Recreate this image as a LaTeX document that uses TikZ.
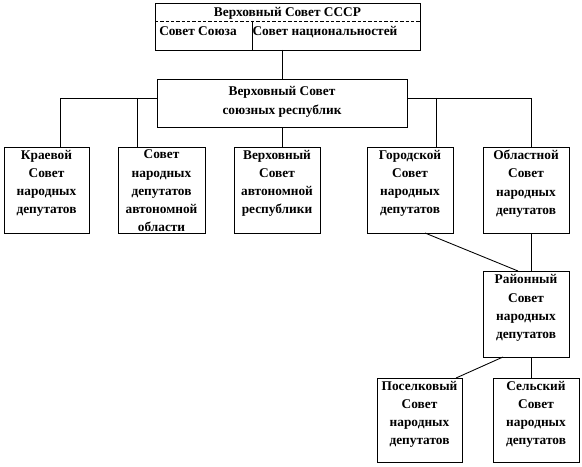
\documentclass[tikz,border=0pt]{standalone}
\usepackage{fontspec}
\setmainfont{Liberation Serif}
\begin{document}
\begin{tikzpicture}[x=0.75pt,y=-0.75pt,
  box/.style 2 args={draw, line width=0.65pt, minimum width=#1*0.75pt, minimum height=#2*0.75pt, inner sep=0pt, outer sep=0pt},
  lbl/.style={anchor=north, align=center, inner sep=0pt, font=\fontsize{10}{13.7}\selectfont\bfseries},
  one/.style={anchor=base, inner sep=0pt, font=\fontsize{10}{13.7}\selectfont\bfseries},
  conn/.style={line width=0.65pt}]
\useasboundingbox (0,0) rectangle (582,467);
% boxes
\node[box={265}{47}] (top) at (287.5,26.5) {};
\node[box={250}{48}] (rep) at (282,103) {};
\node[box={85}{86}] (b1) at (46.5,190) {};
\node[box={87}{86}] (b2) at (161.5,190) {};
\node[box={86}{86}] (b3) at (277,190) {};
\node[box={86}{86}] (b4) at (410,190) {};
\node[box={86}{86}] (b5) at (526,190) {};
\node[box={86}{86}] (ray) at (526,314) {};
\node[box={85}{84}] (pos) at (419.5,420) {};
\node[box={86}{84}] (sel) at (536,420) {};
% top box interior
\coordinate (dl) at (155,21);
\coordinate (dr) at (420,21);
\coordinate (dv) at (252,21);
\draw[line width=0.55pt, dash pattern=on 2.5pt off 1.5pt] (dl) -- (dr);
\draw[conn] (dv) -- (dv |- top.south);
\node[one] (ttitle) at (287.5,17) {Верховный Совет СССР};
\node[one] (tsoyuz) at (198,35.5) {Совет Союза};
\node[one] (tnac) at (325,35.5) {Совет национальностей};
% labels
\node[lbl] (trep) at ([yshift=-5.5pt]rep.north) {Верховный Совет\\союзных республик};
\node[lbl] (t1) at ([yshift=-2pt]b1.north) {Краевой\\Совет\\народных\\депутатов};
\node[lbl] (t2) at ([yshift=-2pt]b2.north) {Совет\\народных\\депутатов\\автономной\\области};
\node[lbl] (t3) at ([yshift=-2pt]b3.north) {Верховный\\Совет\\автономной\\республики};
\node[lbl] (t4) at ([yshift=-2pt]b4.north) {Городской\\Совет\\народных\\депутатов};
\node[lbl] (t5) at ([yshift=-2pt]b5.north) {Областной\\Совет\\народных\\депутатов};
\node[lbl] (tray) at ([yshift=-2.5pt]ray.north) {Районный\\Совет\\народных\\депутатов};
\node[lbl] (tpos) at ([yshift=-2pt]pos.north) {Поселковый\\Совет\\народных\\депутатов};
\node[lbl] (tsel) at ([yshift=-2pt]sel.north) {Сельский\\Совет\\народных\\депутатов};
% connectors
\coordinate (hL) at (60,98);
\coordinate (v2) at (137,98);
\coordinate (v4) at (436,98);
\coordinate (hR) at (531,98);
\draw[conn] (rep.north |- top.south) -- (rep.north);
\draw[conn] (rep.south) -- (rep.south |- b3.north);
\draw[conn] (rep.west |- hL) -- (hL) -- (hL |- b1.north);
\draw[conn] (v2) -- (v2 |- b2.north);
\draw[conn] (rep.east |- hR) -- (hR) -- (hR |- b5.north);
\draw[conn] (v4) -- (v4 |- b4.north);
\draw[conn] (hR |- b5.south) -- (hR |- ray.north);
\draw[conn] ([xshift=11.25pt]b4.south) -- ([xshift=-6pt]ray.north);
\draw[conn] (hR |- ray.south) -- (hR |- sel.north);
\draw[conn] ([xshift=-17.25pt]ray.south) -- ([xshift=27.4pt]pos.north);
\end{tikzpicture}
\end{document}
